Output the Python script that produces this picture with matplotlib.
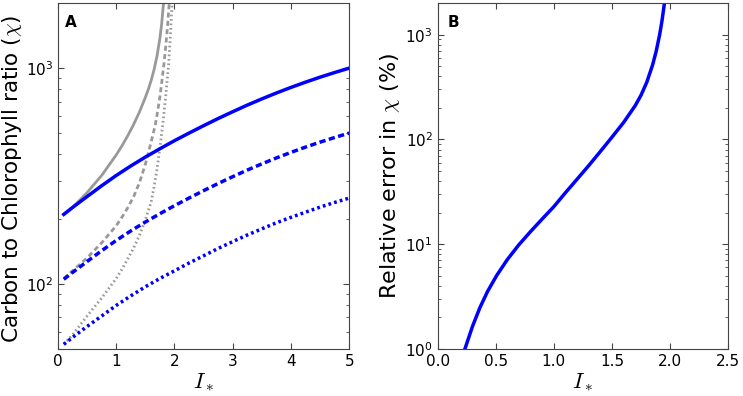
import matplotlib
matplotlib.use("Agg")
import matplotlib.pyplot as plt

plt.rcParams['mathtext.fontset'] = 'cm'
plt.rcParams['font.family'] = 'DejaVu Sans'

# panel A: blue curves (shared x)
x_blue = [0.1, 0.25, 0.5, 0.75, 1.0, 1.25, 1.5, 1.75, 2.0, 2.25, 2.5, 2.75,
          3.0, 3.25, 3.5, 3.75, 4.0, 4.25, 4.5, 4.75, 5.0]
chi_solid = [210, 226, 254, 285, 318, 352, 387, 423, 461, 500, 541, 584,
             628, 674, 720, 767, 814, 861, 908, 954, 1000]
chi_dashed = [105, 113, 127, 142.5, 159, 176, 193.5, 211.5, 230.5, 250, 270.5, 292,
              314, 337, 360, 383.5, 407, 430.5, 454, 477, 500]
chi_dotted = [52.5, 56.5, 63.5, 71, 79.5, 88, 97, 106, 115, 125, 135, 146,
              157, 168.5, 180, 192, 203.5, 215, 227, 238.5, 250]

# panel A: grey curves
x_grey_solid = [0.1, 0.25, 0.5, 0.75, 1.0, 1.1, 1.2, 1.3, 1.4, 1.5, 1.55, 1.6,
                1.65, 1.7, 1.75, 1.78, 1.81, 1.83]
chi_grey_solid = [210, 226, 265, 318, 396, 437, 487, 549, 627, 731, 795, 877,
                  984, 1136, 1374, 1600, 1968, 2344]
x_grey_dashed = [0.1, 0.25, 0.5, 0.75, 1.0, 1.1, 1.2, 1.3, 1.4, 1.5, 1.6, 1.67,
                 1.7, 1.75, 1.78, 1.82, 1.85, 1.88, 1.91, 1.93]
chi_grey_dashed = [106, 115, 132, 155, 186, 204, 226, 254, 295, 358, 455, 545,
                   605, 735, 851, 1047, 1259, 1549, 1995, 2399]
x_grey_dotted = [0.1, 0.25, 0.5, 0.75, 1.0, 1.1, 1.2, 1.3, 1.4, 1.5, 1.55, 1.6,
                 1.65, 1.7, 1.75, 1.8, 1.85, 1.9, 1.93, 1.96, 1.98]
chi_grey_dotted = [52.5, 58, 71, 86, 106, 117, 131, 147, 168, 198, 218, 240,
                   282, 339, 427, 550, 741, 1047, 1413, 2000, 2818]

# panel B: relative error
x_err = [0.235, 0.3, 0.364, 0.43, 0.508, 0.6, 0.7, 0.8, 0.9, 1.0, 1.1, 1.2,
         1.3, 1.4, 1.5, 1.6, 1.7, 1.75, 1.8, 1.85, 1.88, 1.91, 1.93, 1.95, 1.97]
rel_err = [1.0, 1.64, 2.48, 3.54, 5.02, 7.13, 9.89, 13.2, 17.4, 22.8, 31.0, 41.7,
           56.2, 76.6, 105, 145, 210, 264, 352, 515, 689, 993, 1340, 1936, 3069]

blue = '#0000ff'
grey = '#999999'

fig = plt.figure(figsize=(7.43, 3.96), dpi=100)
axA = fig.add_axes([0.078, 0.119, 0.392, 0.873])
axB = fig.add_axes([0.589, 0.119, 0.391, 0.873])

axA.plot(x_grey_solid, chi_grey_solid, color=grey, lw=2, ls='-')
axA.plot(x_grey_dashed, chi_grey_dashed, color=grey, lw=2, dashes=(1.8, 1.2))
axA.plot(x_grey_dotted, chi_grey_dotted, color=grey, lw=2, dashes=(0.6, 1.0))
axA.plot(x_blue, chi_solid, color=blue, lw=2.5, ls='-')
axA.plot(x_blue, chi_dashed, color=blue, lw=2.5, dashes=(1.8, 1.0))
axA.plot(x_blue, chi_dotted, color=blue, lw=2.5, dashes=(0.8, 0.9))
axA.set_yscale('log')
axA.set_xlim(0, 5)
axA.set_ylim(50, 2000)
axA.set_xticks([0, 1, 2, 3, 4, 5])
axA.set_xlabel(r'$I_*$', fontsize=16)
axA.set_ylabel(r'Carbon to Chlorophyll ratio ($\chi$)', fontsize=15.5)
axA.yaxis.set_label_coords(-0.117, 0.49)
axA.xaxis.set_label_coords(0.5, -0.066)
axA.text(0.025, 0.945, 'A', transform=axA.transAxes, fontsize=11,
         fontweight='bold', va='center')

axB.plot(x_err, rel_err, color=blue, lw=2.5)
axB.set_yscale('log')
axB.set_xlim(0, 2.5)
axB.set_ylim(1, 2000)
axB.set_xticks([0.0, 0.5, 1.0, 1.5, 2.0, 2.5])
axB.set_xticklabels(['0.0', '0.5', '1.0', '1.5', '2.0', '2.5'])
axB.set_xlabel(r'$I_*$', fontsize=16)
axB.set_ylabel(r'Relative error in $\chi$ (%)', fontsize=16)
axB.yaxis.set_label_coords(-0.123, 0.5)
axB.xaxis.set_label_coords(0.5, -0.066)
axB.text(0.035, 0.945, 'B', transform=axB.transAxes, fontsize=11,
         fontweight='bold', va='center')

for ax in (axA, axB):
    ax.tick_params(which='both', direction='in', top=True, right=True,
                   labelsize=11, color='#444444')
    ax.tick_params(which='major', length=4)
    ax.tick_params(which='minor', length=2)
    for s in ax.spines.values():
        s.set_color('#444444')

fig.savefig('out.png', dpi=100)
